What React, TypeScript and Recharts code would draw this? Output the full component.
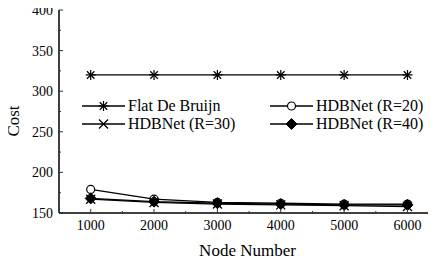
import { LineChart, Line, XAxis, YAxis, Legend } from 'recharts';

const nodeNumbers = [1000, 2000, 3000, 4000, 5000, 6000];
const flatDeBruijn = [320, 320, 320, 320, 320, 320];
const hdbNetR20 = [179, 167, 163, 162, 161, 161];
const hdbNetR30 = [167, 163, 161, 160, 159, 158];
const hdbNetR40 = [168, 164, 162, 161, 160, 160];

const xMajorTicks = [1000, 2000, 3000, 4000, 5000, 6000];
const xMinorTicks = [1500, 2500, 3500, 4500, 5500];
const yMajorTicks = [150, 200, 250, 300, 350, 400];
const yMinorTicks = [175, 225, 275, 325, 375];

const data = nodeNumbers.map((n, i) => ({
  node: n,
  flat: flatDeBruijn[i],
  r20: hdbNetR20[i],
  r30: hdbNetR30[i],
  r40: hdbNetR40[i],
}));

const FONT = 'Liberation Serif';
const xTicks = [...xMajorTicks, ...xMinorTicks].sort((a, b) => a - b);
const yTicks = [...yMajorTicks, ...yMinorTicks].sort((a, b) => a - b);

// marker shapes
const Star = ({ cx, cy, s = 5 }: any) => (
  <g stroke="#000" strokeWidth={1.2}>
    <line x1={cx - s} y1={cy} x2={cx + s} y2={cy} />
    <line x1={cx} y1={cy - s} x2={cx} y2={cy + s} />
    <line x1={cx - s * 0.75} y1={cy - s * 0.75} x2={cx + s * 0.75} y2={cy + s * 0.75} />
    <line x1={cx - s * 0.75} y1={cy + s * 0.75} x2={cx + s * 0.75} y2={cy - s * 0.75} />
  </g>
);
const Circle = ({ cx, cy, r = 4 }: any) => (
  <circle cx={cx} cy={cy} r={r} fill="#fff" stroke="#000" strokeWidth={1.2} />
);
const Cross = ({ cx, cy, s = 4.5 }: any) => (
  <g stroke="#000" strokeWidth={1.3}>
    <line x1={cx - s} y1={cy - s} x2={cx + s} y2={cy + s} />
    <line x1={cx - s} y1={cy + s} x2={cx + s} y2={cy - s} />
  </g>
);
const Diamond = ({ cx, cy, s = 5.5 }: any) => (
  <polygon
    points={`${cx},${cy - s} ${cx + s},${cy} ${cx},${cy + s} ${cx - s},${cy}`}
    fill="#000"
    stroke="#000"
  />
);

const dotOf = (Shape: any) => (props: any) => (
  <Shape key={`${props.dataKey}-${props.index}`} cx={props.cx} cy={props.cy} />
);

const BottomTick = ({ x, y, payload }: any) => {
  const major = xMajorTicks.includes(payload.value);
  return (
    <g>
      <line x1={x} y1={y} x2={x} y2={y - (major ? 4 : 2)} stroke="#333" />
      {major && (
        <text x={x} y={y + 17} textAnchor="middle" fontSize={14} style={{ fontFamily: FONT }} fill="#000">
          {payload.value}
        </text>
      )}
    </g>
  );
};

const TopTick = ({ x, y, payload }: any) => {
  const major = xMajorTicks.includes(payload.value);
  return <line x1={x} y1={y} x2={x} y2={y + (major ? 4 : 2)} stroke="#999" />;
};

const LeftTick = ({ x, y, payload }: any) => {
  const major = yMajorTicks.includes(payload.value);
  return (
    <g>
      <line x1={x} y1={y} x2={x + (major ? 4 : 2)} y2={y} stroke="#333" />
      {major && (
        <text x={x - 6} y={y} dy="0.35em" textAnchor="end" fontSize={14} style={{ fontFamily: FONT }} fill="#000">
          {payload.value}
        </text>
      )}
    </g>
  );
};

const legendItems = [
  { name: 'Flat De Bruijn', Shape: Star, left: 0, top: 0 },
  { name: 'HDBNet (R=20)', Shape: Circle, left: 188, top: 0 },
  { name: 'HDBNet (R=30)', Shape: Cross, left: 0, top: 18 },
  { name: 'HDBNet (R=40)', Shape: Diamond, left: 188, top: 18 },
];

const LegendBox = () => (
  <div style={{ position: 'relative', width: 354, height: 32 }}>
    {legendItems.map(({ name, Shape, left, top }) => (
      <div
        key={name}
        style={{ position: 'absolute', left, top, height: 14, display: 'flex', alignItems: 'center' }}
      >
        <svg width={43} height={14} style={{ flex: 'none' }}>
          <line x1={0} y1={7} x2={43} y2={7} stroke="#000" strokeWidth={1.3} />
          <Shape cx={21.5} cy={7} />
        </svg>
        <div
          style={{
            fontFamily: FONT,
            fontSize: 16,
            lineHeight: '14px',
            height: 14,
            marginLeft: 3,
            color: '#000',
            whiteSpace: 'nowrap',
          }}
        >
          {name}
        </div>
      </div>
    ))}
  </div>
);

const CostLabel = () => (
  <text
    x={19}
    y={121}
    transform="rotate(-90, 19, 121)"
    textAnchor="middle"
    fontSize={17}
    style={{ fontFamily: FONT }}
    fill="#000"
  >
    Cost
  </text>
);

export default function App() {
  return (
    <div style={{ margin: '-8px 0 0 -8px', background: '#fff', width: 436, height: 259, fontFamily: FONT }}>
      <LineChart width={436} height={259} data={data} margin={{ top: 10, right: 0, bottom: 0, left: 0 }}>
        <XAxis
          dataKey="node"
          type="number"
          domain={[500, 6450]}
          allowDataOverflow
          ticks={xTicks}
          interval={0}
          height={46}
          tickSize={0}
          tickMargin={0}
          tick={<BottomTick />}
          axisLine={{ stroke: '#000', strokeWidth: 1.5 }}
          label={{ value: 'Node Number', position: 'insideBottom', offset: 3, fontSize: 17, style: { fontFamily: FONT }, fill: '#000' }}
        />
        <XAxis
          xAxisId="top"
          orientation="top"
          dataKey="node"
          type="number"
          domain={[500, 6450]}
          allowDataOverflow
          ticks={xTicks}
          interval={0}
          height={0}
          tickSize={0}
          tickMargin={0}
          tick={<TopTick />}
          axisLine={{ stroke: '#000', strokeWidth: 1.5 }}
        />
        <YAxis
          type="number"
          domain={[150, 400]}
          ticks={yTicks}
          interval={0}
          width={59}
          tickSize={0}
          tickMargin={0}
          tick={<LeftTick />}
          axisLine={{ stroke: '#000', strokeWidth: 1.5 }}
          label={<CostLabel />}
        />
        <Legend
          layout="horizontal"
          verticalAlign="middle"
          align="center"
          wrapperStyle={{ top: 99, left: 82, width: 354, height: 32 }}
          content={<LegendBox />}
        />
        <Line dataKey="flat" stroke="#000" strokeWidth={1.3} dot={dotOf(Star)} activeDot={false} isAnimationActive={false} />
        <Line dataKey="r20" stroke="#000" strokeWidth={1.3} dot={dotOf(Circle)} activeDot={false} isAnimationActive={false} />
        <Line dataKey="r30" stroke="#000" strokeWidth={1.3} dot={dotOf(Cross)} activeDot={false} isAnimationActive={false} />
        <Line dataKey="r40" stroke="#000" strokeWidth={1.3} dot={dotOf(Diamond)} activeDot={false} isAnimationActive={false} />
      </LineChart>
    </div>
  );
}
